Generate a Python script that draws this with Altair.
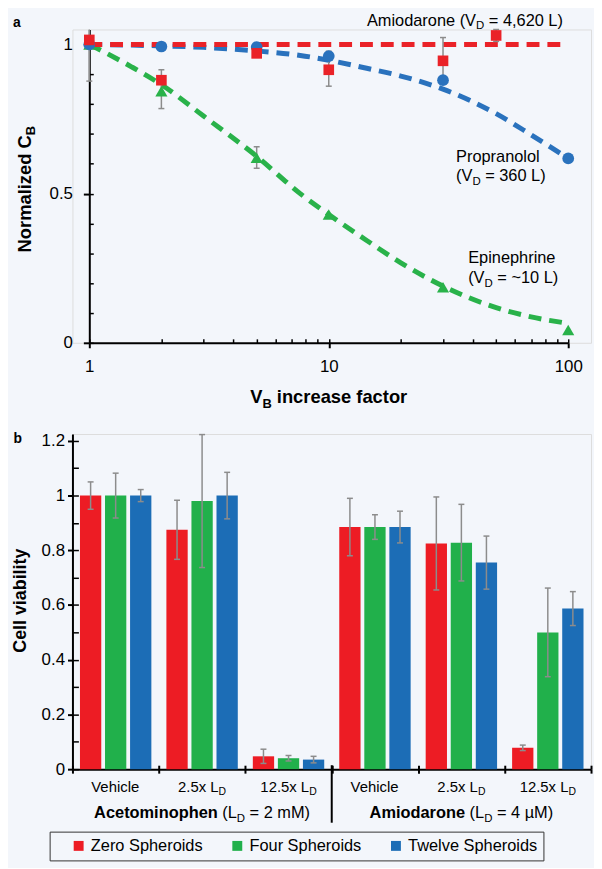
import altair as alt
import pandas as pd

FONT = "Liberation Sans"
BG = "#f3f6fb"
GRAY = "#8c8c8c"

# ---------------- panel a data ----------------
epi_x = [1, 2, 5, 10, 30, 100]
epi_y = [1.0, 0.843, 0.62, 0.43, 0.186, 0.043]
prop_x = [1, 2, 5, 10, 30, 100]
prop_y = [1.0, 0.993, 0.991, 0.961, 0.88, 0.618]
amio_x = [1, 2, 5, 10, 30, 50]
amio_y = [1.015, 0.88, 0.97, 0.915, 0.945, 1.03]

err_x = [1, 2, 5, 10, 30, 50]
err_lo = [0.877, 0.785, 0.585, 0.86, 0.867, 1.01]
err_hi = [1.05, 0.915, 0.657, 0.977, 1.023, 1.05]
err_top_cap = [False, True, True, True, True, True]

epi_fit_x = [1, 1.5, 2, 3, 5, 7.6, 10, 14.4, 20, 30, 50, 70, 100]
epi_fit_y = [1.0, 0.925, 0.865, 0.76, 0.625, 0.5, 0.43, 0.343, 0.268, 0.19, 0.118, 0.087, 0.065]
prop_fit_x = [1, 2, 3, 5, 7.6, 10, 14.4, 20, 30, 50, 70, 100]
prop_fit_y = [1.0, 0.995, 0.99, 0.978, 0.963, 0.947, 0.92, 0.894, 0.85, 0.768, 0.697, 0.618]
amio_fit_x = [1, 100]
amio_fit_y = [1.0, 1.0]

ya_major = [0, 0.5, 1]
ya_minor = [round(i * 0.1, 2) for i in range(11)]
xa_major = [1, 10, 100]
xa_minor = [1, 2, 3, 4, 5, 6, 7, 8, 9, 10, 20, 30, 40, 50, 60, 70, 80, 90, 100]

# ---------------- panel b data ----------------
drugs_b = ["Acetominophen", "Amiodarone"]
doses = ["Vehicle", "2.5x", "12.5x"]
series_b = ["Zero Spheroids", "Four Spheroids", "Twelve Spheroids"]
acet_zero = [1.0, 0.875, 0.047]
acet_zero_err = [0.05, 0.108, 0.026]
acet_four = [1.0, 0.98, 0.04]
acet_four_err = [0.082, 0.243, 0.01]
acet_twelve = [1.0, 1.0, 0.035]
acet_twelve_err = [0.022, 0.085, 0.012]
amio_zero = [0.885, 0.825, 0.078]
amio_zero_err = [0.105, 0.17, 0.01]
amio_four = [0.885, 0.828, 0.5]
amio_four_err = [0.045, 0.14, 0.162]
amio_twelve = [0.885, 0.755, 0.587]
amio_twelve_err = [0.058, 0.097, 0.062]
yb_major = [0, 0.2, 0.4, 0.6, 0.8, 1, 1.2]
yb_minor = [round(i * 0.1, 2) for i in range(13)]

RED_A, BLUE_A, GREEN_A = "#ea2228", "#2a72bd", "#29b24a"
RED_B, GREEN_B, BLUE_B = "#ed1c24", "#21b04b", "#1c6db6"

# ---------------- text metrics (Arial / Liberation Sans) ----------------
WR = {' ': 278, '(': 333, ')': 333, ',': 278, '.': 278, '=': 584, '~': 584, 'µ': 576,
      'A': 667, 'B': 667, 'C': 722, 'D': 722, 'E': 667, 'F': 611, 'L': 556, 'M': 833, 'N': 722,
      'P': 667, 'S': 667, 'T': 611, 'V': 667, 'Z': 611,
      'a': 556, 'b': 556, 'c': 500, 'd': 556, 'e': 556, 'f': 278, 'g': 556, 'h': 556, 'i': 222,
      'k': 500, 'l': 222, 'm': 833, 'n': 556, 'o': 556, 'p': 556, 'r': 333, 's': 500, 't': 278,
      'u': 556, 'v': 500, 'w': 722, 'x': 500, 'y': 500, 'z': 500}
for _d in "0123456789":
    WR[_d] = 556
WB = {' ': 278, 'A': 722, 'B': 722, 'C': 722, 'D': 722, 'N': 722, 'V': 667,
      'a': 556, 'b': 611, 'c': 556, 'd': 611, 'e': 556, 'f': 333, 'h': 611, 'i': 278, 'l': 278,
      'm': 889, 'n': 611, 'o': 611, 'p': 611, 'r': 389, 's': 556, 't': 333, 'v': 556, 'y': 556, 'z': 500}


def tw(s, size, bold=False):
    t = WB if bold else WR
    return sum(t.get(c, 556) for c in s) * size / 1000.0


def rich(df, enc, segs, align="center", angle=None):
    total = sum(tw(t, s, b) for t, s, b, d in segs)
    pos = -total / 2 if align == "center" else 0.0
    out = []
    for t, s, b, d in segs:
        lead = len(t) - len(t.lstrip(" "))
        mk = dict(text=t.strip(), fontSize=s, fontWeight="bold" if b else "normal",
                  align="left", baseline="alphabetic", dx=pos + tw(" " * lead, s, b), dy=d,
                  font=FONT, color="black")
        if angle is not None:
            mk["angle"] = angle
        out.append(alt.Chart(df).mark_text(**mk).encode(**enc))
        pos += tw(t, s, b)
    return out


W = 523
HA = 316
HB = 338
GAP = 92

# ================= panel a =================
xa = alt.Scale(type="log", domain=[1, 100], range=[17, 500])
ya = alt.Scale(domain=[0, 1.05], nice=False, zero=False)

ax_a_x = alt.Axis(orient="bottom", values=xa_major, format="~g", title=None, grid=False,
                  domainColor="black", domainWidth=2, tickColor="black", tickWidth=2, tickSize=5,
                  labelFontSize=17, labelFont=FONT, labelColor="black", labelPadding=11,
                  labelFlush=False, labelOverlap=False)
ax_a_y = alt.Axis(orient="left", offset=-17, values=ya_major, format="~g", title=None, grid=False,
                  domainColor="black", domainWidth=2, tickColor="black", tickWidth=2, tickSize=6,
                  labelFontSize=17, labelFont=FONT, labelColor="black", labelPadding=11)
ax_a_x_min = alt.Axis(orient="top", offset=-HA, values=xa_minor, labels=False, domain=False,
                      title=None, grid=False, tickColor="black", tickWidth=1.5, tickSize=4)
ax_a_y_min = alt.Axis(orient="right", offset=-(W - 17), values=ya_minor, labels=False, domain=False,
                      title=None, grid=False, tickColor="black", tickWidth=1.5, tickSize=4)


def line_layer(xs, ys, color, xax=None, yax=None):
    df = pd.DataFrame({"x": xs, "y": ys})
    return alt.Chart(df).mark_line(color=color, strokeWidth=5, strokeDash=[13, 8], strokeCap="butt",
                                   interpolate="monotone").encode(
        x=alt.X("x:Q", scale=xa, axis=xax), y=alt.Y("y:Q", scale=ya, axis=yax))


def pts(xs, ys, shape, size, color):
    df = pd.DataFrame({"x": xs, "y": ys})
    return alt.Chart(df).mark_point(shape=shape, size=size, filled=True, color=color, opacity=1,
                                    strokeWidth=0).encode(
        x=alt.X("x:Q", scale=xa, axis=None), y=alt.Y("y:Q", scale=ya, axis=None))


df_err = pd.DataFrame({"x": err_x, "lo": err_lo, "hi": err_hi, "cap": err_top_cap})
err_rule = alt.Chart(df_err).mark_rule(color=GRAY, strokeWidth=1.5).encode(
    x=alt.X("x:Q", scale=xa, axis=None), y=alt.Y("lo:Q", scale=ya, axis=None), y2="hi:Q")
cap_lo = alt.Chart(df_err).mark_tick(orient="horizontal", size=6, thickness=1.5, color=GRAY,
                                     opacity=1).encode(
    x=alt.X("x:Q", scale=xa, axis=None), y=alt.Y("lo:Q", scale=ya, axis=None))
cap_hi = alt.Chart(df_err).transform_filter("datum.cap").mark_tick(
    orient="horizontal", size=6, thickness=1.5, color=GRAY, opacity=1).encode(
    x=alt.X("x:Q", scale=xa, axis=None), y=alt.Y("hi:Q", scale=ya, axis=None))


def at(x, y):
    return pd.DataFrame({"x": [x], "y": [y]})


def enc_a():
    return dict(x=alt.X("x:Q", scale=xa, axis=None), y=alt.Y("y:Q", scale=ya, axis=None))


AS, SS, SD = 16.5, 11.5, 4
texts_a = []
texts_a += rich(at(14.43, 1.0633), enc_a(),
                [("Amiodarone (V", AS, False, 0), ("D", SS, False, SD), (" = 4,620 L)", AS, False, 0)], "left")
texts_a += rich(at(34.0, 0.606), enc_a(), [("Propranolol", AS, False, 0)], "left")
texts_a += rich(at(34.0, 0.543), enc_a(),
                [("(V", AS, False, 0), ("D", SS, False, SD), (" = 360 L)", AS, False, 0)], "left")
texts_a += rich(at(38.2, 0.266), enc_a(), [("Epinephrine", AS, False, 0)], "left")
texts_a += rich(at(38.2, 0.2), enc_a(),
                [("(V", AS, False, 0), ("D", SS, False, SD), (" = ~10 L)", AS, False, 0)], "left")

one = pd.DataFrame({"k": [0]})
texts_a += rich(one, dict(x=alt.value(258.5), y=alt.value(377)),
                [("V", 18.5, True, 0), ("B", 13, True, 4.5), (" increase factor", 18.5, True, 0)])
texts_a += rich(one, dict(x=alt.value(-42), y=alt.value(161)),
                [("Normalized C", 18.5, True, 0), ("B", 13, True, 4.5)], angle=270)
texts_a += rich(one, dict(x=alt.value(-60), y=alt.value(-3)), [("a", 14, True, 0)], "left")

layers_a = [
    line_layer(epi_fit_x, epi_fit_y, GREEN_A, ax_a_x, ax_a_y),
    line_layer(prop_fit_x, prop_fit_y, BLUE_A, ax_a_x_min, ax_a_y_min),
    line_layer(amio_fit_x, amio_fit_y, RED_A),
    err_rule, cap_lo, cap_hi,
    pts(epi_x, epi_y, "triangle-up", 150, GREEN_A),
    pts(prop_x, prop_y, "circle", 140, BLUE_A),
    pts(amio_x, amio_y, "square", 115, RED_A),
] + texts_a

panel_a = alt.layer(*layers_a).resolve_axis(x="independent", y="independent").properties(
    width=W, height=HA)

# ================= panel b =================
vals = {"Acetominophen": [(acet_zero, acet_zero_err), (acet_four, acet_four_err), (acet_twelve, acet_twelve_err)],
        "Amiodarone": [(amio_zero, amio_zero_err), (amio_four, amio_four_err), (amio_twelve, amio_twelve_err)]}
cats = [f"{d}|{o}" for d in drugs_b for o in doses]
rows = []
for d in drugs_b:
    for j, o in enumerate(doses):
        for k, s in enumerate(series_b):
            v, e = vals[d][k][0][j], vals[d][k][1][j]
            rows.append({"cat": f"{d}|{o}", "series": s, "val": v, "lo": v - e, "hi": v + e})
df_b = pd.DataFrame(rows)

xb = alt.Scale(domain=cats, paddingInner=0, paddingOuter=0)
xob = alt.Scale(domain=series_b, paddingInner=0.15, paddingOuter=0.3)
yb = alt.Scale(domain=[0, 1.225], nice=False)
colb = alt.Scale(domain=series_b, range=[RED_B, GREEN_B, BLUE_B])

ax_b_x = alt.Axis(orient="bottom", tickBand="extent", labels=False, title=None, grid=False,
                  domainColor="black", domainWidth=2, tickColor="black", tickWidth=2, tickSize=4)
ax_b_x_in = alt.Axis(orient="top", offset=-HB, tickBand="extent", labels=False, domain=False,
                     title=None, grid=False, tickColor="black", tickWidth=2, tickSize=4)
ax_b_y = alt.Axis(orient="left", values=yb_major, format="~g", title=None, grid=False,
                  domainColor="black", domainWidth=2, tickColor="black", tickWidth=2, tickSize=5,
                  labelFontSize=17, labelFont=FONT, labelColor="black", labelPadding=3)
ax_b_y_in = alt.Axis(orient="right", offset=-W, values=yb_minor, labels=False, domain=False,
                     title=None, grid=False, tickColor="black", tickWidth=1.5, tickSize=6)

NB = "\u00a0"
# legend is hoisted to the concat level: its position is relative to panel a's origin
leg = alt.Legend(title=NB, titleOrient="left", titlePadding=15, titleFontSize=16,
                 orient="none", legendX=-23, legendY=HA + GAP + 401, direction="horizontal",
                 symbolType="square", symbolSize=100, symbolStrokeWidth=0,
                 labelFontSize=16.5, labelFont=FONT, labelColor="black", labelOffset=4,
                 columnPadding=26, padding=6, strokeColor="#333333",
                 labelExpr=f"datum.label == 'Twelve Spheroids' ? datum.label + '{NB}{NB}' : datum.label")

bars = alt.Chart(df_b).mark_bar().encode(
    x=alt.X("cat:N", sort=cats, scale=xb, axis=ax_b_x),
    xOffset=alt.XOffset("series:N", sort=series_b, scale=xob),
    y=alt.Y("val:Q", scale=yb, axis=ax_b_y),
    color=alt.Color("series:N", scale=colb, sort=series_b, legend=leg))

err_b = alt.Chart(df_b).mark_rule(color=GRAY, strokeWidth=1.5).encode(
    x=alt.X("cat:N", sort=cats, scale=xb, axis=ax_b_x_in),
    xOffset=alt.XOffset("series:N", sort=series_b, scale=xob),
    y=alt.Y("lo:Q", scale=yb, axis=ax_b_y_in), y2="hi:Q")
cap_b_lo = alt.Chart(df_b).mark_tick(orient="horizontal", size=6, thickness=1.5, color=GRAY, opacity=1).encode(
    x=alt.X("cat:N", sort=cats, scale=xb, axis=None),
    xOffset=alt.XOffset("series:N", sort=series_b, scale=xob),
    y=alt.Y("lo:Q", scale=yb, axis=None))
cap_b_hi = alt.Chart(df_b).mark_tick(orient="horizontal", size=6, thickness=1.5, color=GRAY, opacity=1).encode(
    x=alt.X("cat:N", sort=cats, scale=xb, axis=None),
    xOffset=alt.XOffset("series:N", sort=series_b, scale=xob),
    y=alt.Y("hi:Q", scale=yb, axis=None))

sep = alt.Chart(pd.DataFrame({"cat": ["Amiodarone|Vehicle"]})).mark_rule(color="black", strokeWidth=2).encode(
    x=alt.X("cat:N", sort=cats, scale=xb, axis=None, bandPosition=0),
    y=alt.value(HB - 4), y2=alt.value(HB + 54))


def cat_df(names):
    return pd.DataFrame({"cat": names})


def enc_b():
    return dict(x=alt.X("cat:N", sort=cats, scale=xb, axis=None), y=alt.value(HB + 23))


LS, LSS = 15, 10.5
texts_b = []
texts_b += rich(cat_df([f"{d}|Vehicle" for d in drugs_b]), enc_b(), [("Vehicle", LS, False, 0)])
texts_b += rich(cat_df([f"{d}|2.5x" for d in drugs_b]), enc_b(),
                [("2.5x L", LS, False, 0), ("D", LSS, False, 3.5)])
texts_b += rich(cat_df([f"{d}|12.5x" for d in drugs_b]), enc_b(),
                [("12.5x L", LS, False, 0), ("D", LSS, False, 3.5)])


def enc_g():
    return dict(x=alt.X("cat:N", sort=cats, scale=xb, axis=None), y=alt.value(HB + 49))


GS = 16.5
texts_b += rich(cat_df(["Acetominophen|2.5x"]), enc_g(),
                [("Acetominophen", GS, True, 0), (" (L", GS, False, 0), ("D", 11.5, False, 4),
                 (" = 2 mM)", GS, False, 0)])
texts_b += rich(cat_df(["Amiodarone|2.5x"]), enc_g(),
                [("Amiodarone", GS, True, 0), (" (L", GS, False, 0), ("D", 11.5, False, 4),
                 (" = 4 µM)", GS, False, 0)])
texts_b += rich(one, dict(x=alt.value(-47), y=alt.value(168)), [("Cell viability", 18, True, 0)], angle=270)
texts_b += rich(one, dict(x=alt.value(-59.5), y=alt.value(9)), [("b", 14, True, 0)], "left")

layers_b = [bars, err_b, cap_b_lo, cap_b_hi, sep] + texts_b
panel_b = alt.layer(*layers_b).resolve_axis(x="independent", y="independent").properties(
    width=W, height=HB)

chart = alt.vconcat(panel_a, panel_b, spacing=GAP, bounds="flush").properties(
    padding={"left": 3, "top": 0, "right": 1, "bottom": 3}, background=BG
).configure_view(stroke=None).configure(font=FONT)

chart.save("out.html", embed_options={"renderer": "svg", "actions": False})
